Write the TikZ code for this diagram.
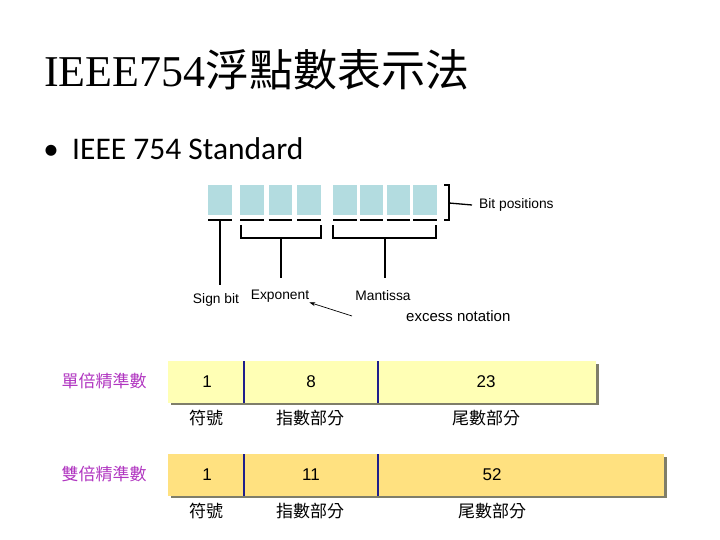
\documentclass[tikz,border=0pt]{standalone}
\usepackage{fontspec}
\setmainfont{Liberation Serif}
\setsansfont{Liberation Sans}
\newfontfamily\cjk{Noto Sans CJK TC}
\newfontfamily\bodyfont{Carlito}
\usetikzlibrary{arrows.meta,positioning}
\definecolor{BitCyan}{HTML}{B3DCE0}
\definecolor{RowPale}{HTML}{FFFFB5}
\definecolor{RowGold}{HTML}{FFE180}
\definecolor{RowShadow}{HTML}{7F7E6A}
\definecolor{RowBar}{HTML}{1E1E8C}
\definecolor{RowName}{HTML}{B035C0}

\begin{document}
\begin{tikzpicture}[
  x=1pt,y=-1pt,>=Stealth,
  bitcell/.style={draw=none,fill=BitCyan,minimum width=23.5pt,minimum height=30pt,inner sep=0pt},
  tick/.style={draw=black,line width=2pt},
  lead/.style={draw=black,line width=1.3pt},
  label/.style={font=\sffamily\fontsize{13.8}{16}\selectfont,inner sep=0pt},
  cellnum/.style={font=\sffamily\fontsize{17}{20}\selectfont,inner sep=0pt},
  partname/.style={font=\cjk\fontsize{17}{20}\selectfont,inner sep=0pt},
  rowname/.style={font=\cjk\fontsize{17}{20}\selectfont,text=RowName,inner sep=0pt},
  divider/.style={draw=RowBar,line width=2.5pt}
]
\useasboundingbox (0,0) rectangle (720,540);

% Heading.
\node[anchor=base west,inner sep=0pt] (title) at (44,87)
  {\fontsize{44}{50}\selectfont IEEE754{\cjk 浮點數表示法}};
\node[anchor=base,inner sep=0pt] (dot) at (51,160) {\bodyfont\fontsize{31}{36}\selectfont •};
\node[anchor=base west,inner sep=0pt] (std) at (72,160) {\bodyfont\fontsize{31.5}{36}\selectfont IEEE 754 Standard};

% Bit positions.
\foreach \x [count=\i] in {208,240,268.5,297,333,359.5,386.5,413}{
  \node[bitcell] (b\i) at (\x+11.75,200) {};
  \draw[tick] (\x,220) -- ++(23.5,0);
}
\draw[lead] (444,185) -- (449,185) -- (449,220) -- (444,220);
\node[label,anchor=west] (bitpos) at (479,205) {Bit positions};
\draw[lead] (449,203) -- (bitpos.west -| 472,0);

% Fields.
\node[label] (sign) at (216,300) {Sign bit};
\node[label] (expo) at (280,296) {Exponent};
\node[label] (mant) at (383,296) {Mantissa};
\node[label,anchor=west,font=\sffamily\fontsize{15}{18}\selectfont] (excess) at (406,316) {excess notation};
\coordinate (signtop) at (220,220);
\coordinate (expotop) at (281,238);
\coordinate (manttop) at (385,238);
\draw[lead] (signtop) -- (220,285);
\draw[lead] (241,225) -- (241,238) -- (321,238) -- (321,225);
\draw[lead] (333,225) -- (333,238) -- (436,238) -- (436,225);
\draw[lead] (expotop) -- (281,278);
\draw[lead] (manttop) -- (385,278);
\coordinate (excesstail) at (352,316);
\draw[-{Stealth[length=6pt,width=4pt]},line width=0.7pt] (excesstail) -- (expo.south east);

% Precision rows.
\foreach \y/\w/\c/\nm/\e/\m/\mx [count=\r] in {361/596/RowPale/單倍精準數/8/23/486,454/664/RowGold/雙倍精準數/11/52/492}{
  \fill[RowShadow] (171,\y+3) rectangle (\w+3,\y+44);
  \fill[\c] (168,\y) rectangle (\w,\y+41.5);
  \draw[divider] (244,\y) -- (244,\y+41.5);
  \draw[divider] (378,\y) -- (378,\y+41.5);
  \node[rowname] (name\r) at (104,\y+20.5) {\nm};
  \node[cellnum] (s\r) at (207,\y+20.5) {1};
  \node[cellnum] (e\r) at (311,\y+20.5) {\e};
  \node[cellnum] (m\r) at (\mx,\y+20.5) {\m};
  \node[partname] (sl\r) at (206,\y+57) {符號};
  \node[partname] (el\r) at (310,\y+57) {指數部分};
  \node[partname] (ml\r) at (\mx,\y+57) {尾數部分};
}
\end{tikzpicture}
\end{document}
